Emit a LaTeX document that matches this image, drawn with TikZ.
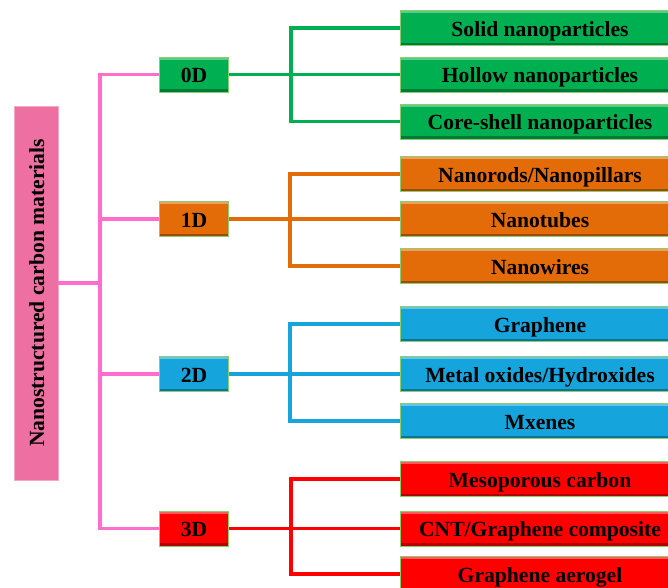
\documentclass[tikz,border=0pt]{standalone}
\usepackage{fontspec}
\setmainfont{Liberation Serif}
\usepackage{xcolor}
\usepackage{tikz}
\usetikzlibrary{positioning,calc}
\definecolor{cgreen}{RGB}{0,176,80}
\definecolor{corange}{RGB}{227,108,9}
\definecolor{cblue}{RGB}{22,164,220}
\definecolor{cred}{RGB}{255,0,0}
\definecolor{cpink}{RGB}{238,112,162}
\definecolor{cpinkline}{RGB}{255,110,205}
\definecolor{cedge}{RGB}{140,205,110}
\tikzset{
  bevel/.style={path picture={
      \fill[white,opacity=.35] (path picture bounding box.north west)
        rectangle ([yshift=-2.2pt]path picture bounding box.north east);
      \fill[black,opacity=.3] (path picture bounding box.south west)
        rectangle ([yshift=2.2pt]path picture bounding box.south east);}},
  box/.style={draw=cedge,line width=0.6pt,bevel,align=center,inner sep=0pt,
              text height=12pt,text depth=0pt,
              font=\fontsize{16.2}{18}\selectfont\bfseries},
  mbox/.style={box,fill=cpink,draw=cpink!60!white,
               minimum width=280.5pt,minimum height=33pt},
  dbox/.style={box,minimum width=51.75pt,minimum height=26.25pt},
  leaf/.style={box,minimum width=210pt,minimum height=26.25pt},
  gbox/.style={fill=cgreen},
  obox/.style={fill=corange},
  bbox/.style={fill=cblue},
  rbox/.style={fill=cred},
  link/.style={line width=2.6pt},
}

\begin{document}
\begin{tikzpicture}[x=0.75pt,y=-0.75pt]
\useasboundingbox (0,0) rectangle (668,587);
% root box
\node[mbox,rotate=90] (main) at (36,293) {Nanostructured carbon materials};
% dimension boxes
\node[dbox,gbox] (d0) at (194,74.5) {0D};
\node[dbox,obox] (d1) at (194,219) {1D};
\node[dbox,bbox] (d2) at (194,374) {2D};
\node[dbox,rbox] (d3) at (194,528.5) {3D};
% leaves
\foreach \n/\y/\t in {s1/28/Solid nanoparticles, s2/74.5/Hollow nanoparticles,
                      s3/121.5/Core-shell nanoparticles}{
  \node[leaf,gbox] (\n) at (540,\y) {\t};
}
\foreach \n/\y/\t in {r1/174/{Nanorods/Nanopillars}, r2/219/Nanotubes,
                      r3/266/Nanowires}{
  \node[leaf,obox] (\n) at (540,\y) {\t};
}
\foreach \n/\y/\t in {g1/324/Graphene, g2/374/{Metal oxides/Hydroxides},
                      g3/421/Mxenes}{
  \node[leaf,bbox] (\n) at (540,\y) {\t};
}
\foreach \n/\y/\t in {c1/479/Mesoporous carbon, c2/528.5/{CNT/Graphene composite},
                      c3/574/Graphene aerogel}{
  \node[leaf,rbox] (\n) at (540,\y) {\t};
}
% joints
\coordinate (jm) at (100,283);
\coordinate (j0) at (291,74.5);
\coordinate (j1) at (290,219);
\coordinate (j2) at (290,374);
\coordinate (j3) at (291,528.5);
% root links
\draw[link,cpinkline] (main.south |- jm) -- (jm);
\draw[link,cpinkline] (d0.west) -| (jm) |- (d3.west);
\draw[link,cpinkline] (jm |- d1) -- (d1.west);
\draw[link,cpinkline] (jm |- d2) -- (d2.west);
% branch links
\draw[link,cgreen] (d0.east) -- (s2.west);
\draw[link,cgreen] (s1.west) -| (j0) |- (s3.west);
\draw[link,corange] (d1.east) -- (r2.west);
\draw[link,corange] (r1.west) -| (j1) |- (r3.west);
\draw[link,cblue] (d2.east) -- (g2.west);
\draw[link,cblue] (g1.west) -| (j2) |- (g3.west);
\draw[link,cred] (d3.east) -- (c2.west);
\draw[link,cred] (c1.west) -| (j3) |- (c3.west);
\end{tikzpicture}
\end{document}
